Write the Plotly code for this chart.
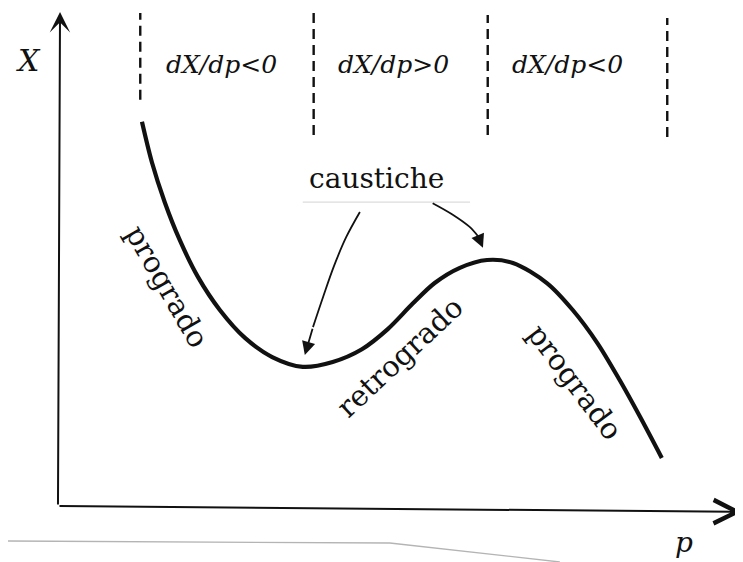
import plotly.graph_objects as go

# ---- data (p, X in arbitrary units; origin at the axes' corner) ----
curve_p = [1.235, 1.38, 1.57, 1.79, 2.06, 2.38, 2.75, 3.15, 3.60, 4.04, 4.47, 4.85,
           5.21, 5.54, 5.91, 6.31, 6.69, 7.19, 7.57, 7.93, 8.26, 8.56, 8.88]
curve_X = [7.84, 7.02, 6.20, 5.43, 4.67, 4.00, 3.43, 3.04, 2.84, 2.94, 3.20, 3.61,
           4.12, 4.55, 4.86, 5.02, 4.96, 4.55, 4.00, 3.33, 2.57, 1.82, 0.98]

# region boundaries (dashed lines)
boundary_p = [1.21, 3.76, 6.32, 8.96]
boundary_top = [10.06, 10.06, 10.02, 9.96]
boundary_bottom = [8.29, 7.57, 7.57, 7.53]

# region labels
region_labels = ["dX/dp<0", "dX/dp>0", "dX/dp<0"]
region_label_p = [2.40, 4.94, 7.49]
region_label_X = 9.02

# branch labels
branch_labels = ["progrado", "retrogrado", "progrado"]
branch_p = [1.61, 5.03, 7.60]
branch_X = [4.47, 3.04, 2.53]
branch_angle = [60, -43, 53]

# caustic arrows
caustic_label = "caustiche"
caustic_label_pos = (4.69, 6.69)
arrow1_p = [4.44, 4.24, 4.06, 3.90, 3.75, 3.63]
arrow1_X = [6.00, 5.49, 4.90, 4.27, 3.65, 3.08]
arrow2_p = [5.51, 5.80, 6.05, 6.18, 6.25]
arrow2_X = [6.18, 5.95, 5.70, 5.50, 5.27]

# axes
p_axis_end = (10.06, -0.12)
X_axis_end = (0.03, 10.08)

# faint scan edges
edge_bottom_p = [-0.735, 4.88, 7.38]
edge_bottom_X = [-0.714, -0.755, -1.143]
edge_caus_p = [3.60, 6.06]
edge_caus_X = [6.20, 6.20]

serif = "DejaVu Serif"
ink = "#111111"

fig = go.Figure()

# faint edges
fig.add_trace(go.Scatter(x=edge_bottom_p, y=edge_bottom_X, mode="lines",
                         line=dict(color="#b4b4b4", width=1.3), hoverinfo="skip"))
fig.add_trace(go.Scatter(x=edge_caus_p, y=edge_caus_X, mode="lines",
                         line=dict(color="#dcdcdc", width=1.3), hoverinfo="skip"))

# main curve
fig.add_trace(go.Scatter(x=curve_p, y=curve_X, mode="lines",
                         line=dict(color=ink, width=4.2, shape="spline", smoothing=0.9),
                         hoverinfo="skip"))

# caustic arrow bodies
for ap, aX in ((arrow1_p, arrow1_X), (arrow2_p, arrow2_X)):
    fig.add_trace(go.Scatter(x=ap[:-1], y=aX[:-1], mode="lines",
                             line=dict(color=ink, width=1.8, shape="spline"),
                             hoverinfo="skip"))
    fig.add_annotation(x=ap[-1], y=aX[-1], ax=ap[-2], ay=aX[-2],
                       xref="x", yref="y", axref="x", ayref="y",
                       showarrow=True, arrowhead=2, arrowsize=1.5, arrowwidth=1.8,
                       arrowcolor=ink, text="")

# dashed boundaries
for bp, bt, bb in zip(boundary_p, boundary_top, boundary_bottom):
    fig.add_shape(type="line", x0=bp, x1=bp, y0=bb, y1=bt, xref="x", yref="y",
                  line=dict(color=ink, width=2.4, dash="10px,6px"))

# axes with arrows
fig.add_annotation(x=p_axis_end[0], y=p_axis_end[1], ax=0, ay=0,
                   xref="x", yref="y", axref="x", ayref="y",
                   showarrow=True, arrowhead=5, arrowsize=2.3, arrowwidth=2,
                   arrowcolor=ink, text="")
fig.add_annotation(x=X_axis_end[0], y=X_axis_end[1], ax=0, ay=0,
                   xref="x", yref="y", axref="x", ayref="y",
                   showarrow=True, arrowhead=3, arrowsize=1.7, arrowwidth=2,
                   arrowcolor=ink, text="")

# axis labels
fig.add_annotation(x=-0.43, y=9.10, text="<i>X</i>", showarrow=False,
                   font=dict(family=serif, size=30, color=ink))
fig.add_annotation(x=9.21, y=-0.74, text="<i>p</i>", showarrow=False,
                   font=dict(family=serif, size=28, color=ink))

# region labels
for t, xp in zip(region_labels, region_label_p):
    fig.add_annotation(x=xp, y=region_label_X,
                       text="<i>" + t.replace("<", "&lt;").replace(">", "&gt;") + "</i>",
                       showarrow=False, font=dict(family=serif, size=25, color=ink))

# branch labels
for t, xp, yp, ang in zip(branch_labels, branch_p, branch_X, branch_angle):
    fig.add_annotation(x=xp, y=yp, text=t, showarrow=False, textangle=ang,
                       font=dict(family=serif, size=29, color=ink))

fig.add_annotation(x=caustic_label_pos[0], y=caustic_label_pos[1], text=caustic_label,
                   showarrow=False, font=dict(family=serif, size=28, color=ink))

# the page body has an 8px default margin: size/ranges compensate for it
fig.update_layout(
    width=735, height=554,
    margin=dict(l=0, r=0, t=0, b=0),
    paper_bgcolor="white", plot_bgcolor="white",
    showlegend=False,
    xaxis=dict(range=[-0.735, 10.074], visible=False, fixedrange=True),
    yaxis=dict(range=[-1.143, 10.163], visible=False, fixedrange=True),
)

fig.write_html("out.html")
